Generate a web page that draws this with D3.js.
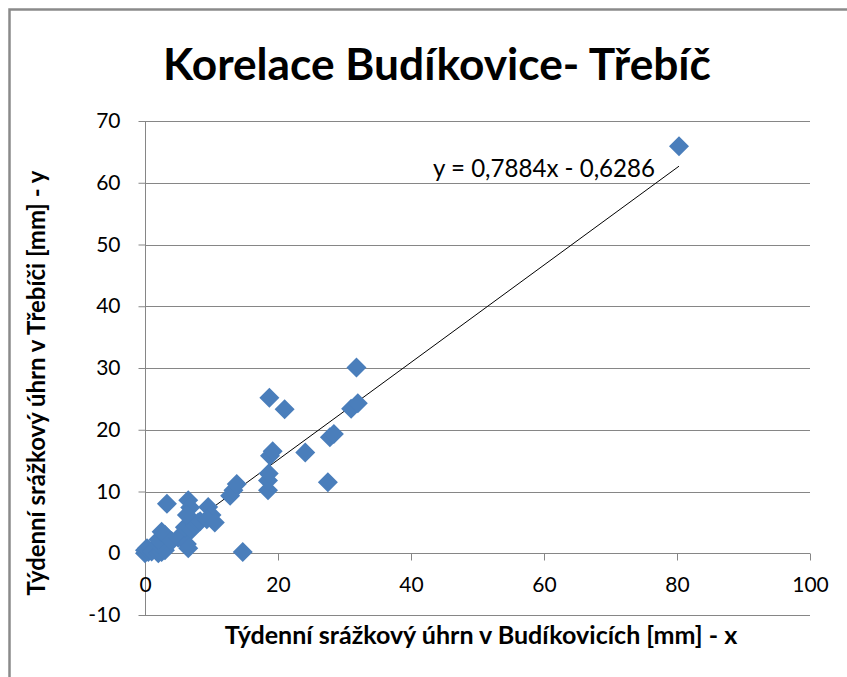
<!DOCTYPE html>
<meta charset="utf-8">
<script src="https://d3js.org/d3.v7.js"></script>
<style>
  body { margin: 0; background: #fff; }
  text { font-family: Lato, "Open Sans", sans-serif; }
</style>
<div id="chart"></div>
<script>

// data
const budikovice = [0, 0, 0.5, 0.3, 1, 2, 2.5, 3, 2, 2, 2.5, 3, 3.3, 4, 5, 6.3, 6.5, 6, 7, 7.5,
  8, 8.3, 6.5, 6.8, 6.3, 9.5, 10, 9.3, 10.5, 12.8, 13.3, 13.8, 14.7, 18.5, 18.5, 18.6, 18.8,
  19.2, 18.7, 21, 24.1, 27.5, 27.8, 28.4, 31, 32, 31.8, 80.3];
const trebic = [0, 0.5, 0.2, 0.8, 0.3, 0, 0.2, 0.5, 1.5, 2.2, 3.5, 3, 8.0, 2, 2.5, 1.5, 0.8, 4.2, 3.8, 4.5,
  5, 5.2, 8.6, 7.4, 6.2, 7.5, 6.2, 5.5, 5, 9.3, 10.2, 11.2, 0.2, 10.2, 11.8, 12.9, 15.8,
  16.5, 25.2, 23.3, 16.3, 11.5, 18.8, 19.3, 23.4, 24.3, 30.1, 65.9];
const xTicks = [0, 20, 40, 60, 80, 100];
const yTicks = [-10, 0, 10, 20, 30, 40, 50, 60, 70];
const slope = 0.7884, intercept = -0.6286;

const points = budikovice.map((x, i) => ({x: x, y: trebic[i]}));

const width = 847, height = 677;
const margin = {top: 121, right: 37, bottom: 62, left: 145};

const svg = d3.select("#chart")
  .append("svg")
    .attr("width", width)
    .attr("height", height);

// outer chart border
svg.append("rect")
  .attr("x", 9.5).attr("y", 9.5)
  .attr("width", width + 20).attr("height", height + 20)
  .attr("fill", "none")
  .attr("stroke", "#8a8a8a")
  .attr("stroke-width", 2.5);

const x = d3.scaleLinear().domain([0, 100]).range([margin.left, width - margin.right]);
const y = d3.scaleLinear().domain([-10, 70]).range([height - margin.bottom, margin.top]);

// horizontal gridlines
svg.append("g")
  .selectAll("line")
  .data(yTicks)
  .join("line")
    .attr("x1", x(0)).attr("x2", x(100))
    .attr("y1", d => Math.round(y(d)) + 0.5)
    .attr("y2", d => Math.round(y(d)) + 0.5)
    .attr("stroke", "#868686");

// y axis (vertical line at x = 0)
const yAxis = svg.append("g")
  .attr("transform", `translate(${Math.round(x(0)) + 0.5},0)`)
  .call(d3.axisLeft(y).tickValues(yTicks).tickFormat(d => String(d)).tickSize(7).tickPadding(18));
yAxis.select(".domain").attr("stroke", "#868686").attr("d", `M0,${y(70)}V${y(-10)}`);
yAxis.selectAll(".tick line").attr("stroke", "#868686");
yAxis.selectAll(".tick text").attr("font-size", 21).attr("fill", "#000")
  .style("font-family", "Lato, sans-serif");

// x axis crossing at y = 0
const xAxis = svg.append("g")
  .attr("transform", `translate(0,${Math.round(y(0)) + 0.5})`)
  .call(d3.axisBottom(x).tickValues(xTicks).tickFormat(d => String(d)).tickSize(7).tickPadding(17));
xAxis.select(".domain").attr("stroke", "#868686").attr("d", `M${x(0)},0H${x(100)}`);
xAxis.selectAll(".tick line").attr("stroke", "#868686");
xAxis.selectAll(".tick text").attr("font-size", 21).attr("fill", "#000")
  .style("font-family", "Lato, sans-serif");

// trendline
const xMax = d3.max(budikovice);
svg.append("line")
  .attr("x1", x(0)).attr("y1", y(intercept))
  .attr("x2", x(xMax)).attr("y2", y(slope * xMax + intercept))
  .attr("stroke", "#000")
  .attr("stroke-width", 1);

// markers
svg.append("g")
  .selectAll("path")
  .data(points)
  .join("path")
    .attr("transform", d => `translate(${x(d.x)},${y(d.y)})`)
    .attr("d", "M0,-10L10,0L0,10L-10,0Z")
    .attr("fill", "#4a7ebb");

// helper: shrink/grow font so the text fits a measured width
function fit(sel, target) {
  const w = sel.node().getComputedTextLength();
  const fs = parseFloat(sel.attr("font-size"));
  sel.attr("font-size", fs * target / w);
}

// equation label
const eq = svg.append("text")
  .attr("x", 544).attr("y", 177)
  .attr("text-anchor", "middle")
  .attr("font-size", 20)
  .text("y = 0,7884x - 0,6286");
fit(eq, 222);

// title
const title = svg.append("text")
  .attr("x", 437).attr("y", 80)
  .attr("text-anchor", "middle")
  .attr("font-size", 40)
  .attr("font-weight", "bold")
  .text("Korelace Budíkovice- Třebíč");
fit(title, 548);

// axis titles
const xt = svg.append("text")
  .attr("x", 481).attr("y", 644)
  .attr("text-anchor", "middle")
  .attr("font-size", 20)
  .attr("font-weight", "bold")
  .text("Týdenní srážkový úhrn v Budíkovicích [mm] - x");
fit(xt, 513);

const yt = svg.append("text")
  .attr("transform", "translate(45,383) rotate(-90)")
  .attr("text-anchor", "middle")
  .attr("font-size", 20)
  .attr("font-weight", "bold")
  .text("Týdenní srážkový úhrn v Třebíči [mm] - y");
fit(yt, 425);

</script>
